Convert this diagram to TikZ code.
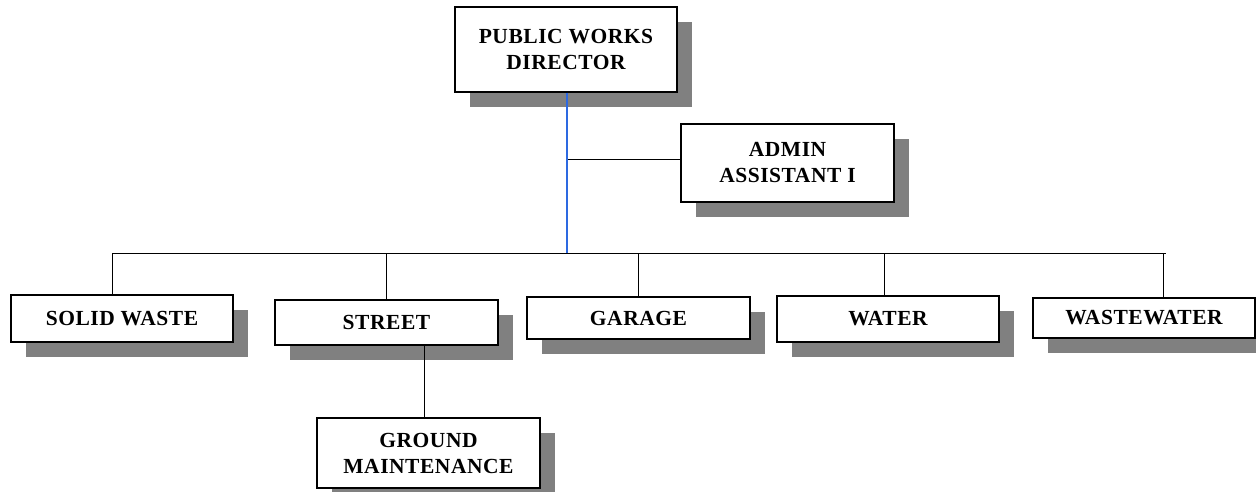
\documentclass[tikz,border=0pt]{standalone}
\usepackage{fontspec}
\setmainfont{Liberation Serif}[LetterSpace=2.5]
\usetikzlibrary{shadows}
\definecolor{shgray}{RGB}{128,128,128}
\definecolor{blueline}{RGB}{45,105,225}
\begin{document}
\begin{tikzpicture}[x=1pt,y=-1pt,
  orgbox/.style={draw=black, line width=1.3pt, fill=white, inner sep=0pt, align=center,
    font=\fontsize{21.5}{26}\selectfont\bfseries,
    drop shadow={shadow xshift=15pt, shadow yshift=-15pt, fill=shgray, opacity=1}},
  conn/.style={draw=black, line width=0.9pt}]
\useasboundingbox (0,0) rectangle (1256,491);
\node[orgbox, minimum width=222pt, minimum height=85pt] (dir) at (566,49.5) {PUBLIC WORKS\\DIRECTOR};
\node[orgbox, minimum width=213pt, minimum height=78pt] (admin) at (787.5,163) {ADMIN\\ASSISTANT I};
\node[orgbox, minimum width=222pt, minimum height=47pt] (solid) at (122,318.5) {SOLID WASTE};
\node[orgbox, minimum width=223pt, minimum height=45pt] (street) at (386.5,322.5) {STREET};
\node[orgbox, minimum width=223pt, minimum height=42pt] (garage) at (638.5,318) {GARAGE};
\node[orgbox, minimum width=222pt, minimum height=46pt] (water) at (888,319) {WATER};
\node[orgbox, minimum width=222pt, minimum height=40pt] (wastew) at (1144,318) {WASTEWATER};
\node[orgbox, minimum width=223pt, minimum height=70pt] (ground) at (428.5,453) {GROUND\\MAINTENANCE};
\coordinate (hub) at (567,253);
\coordinate (ja) at (567,159);
\coordinate (b1) at (112,253);
\coordinate (b2) at (386,253);
\coordinate (b3) at (638,253);
\coordinate (b4) at (884,253);
\coordinate (b5) at (1163,253);
\coordinate (bend) at (1166,253);
\coordinate (sg) at (424,345);
\draw[conn] (b1) -- (bend);
\draw[conn] (ja) -- (ja -| admin.west);
\draw[conn] (b1) -- (b1 |- solid.north);
\draw[conn] (b2) -- (b2 |- street.north);
\draw[conn] (b3) -- (b3 |- garage.north);
\draw[conn] (b4) -- (b4 |- water.north);
\draw[conn] (b5) -- (b5 |- wastew.north);
\draw[conn] (sg |- street.south) -- (sg |- ground.north);
\draw[draw=blueline, line width=1.1pt] (dir.south -| hub) -- (hub);
\end{tikzpicture}
\end{document}
